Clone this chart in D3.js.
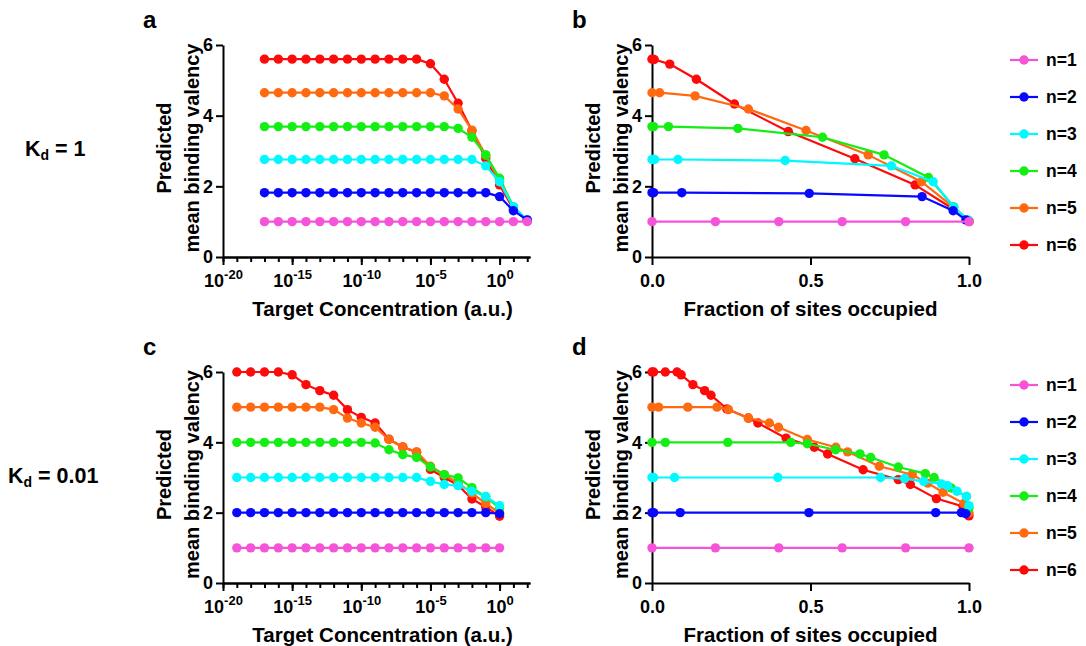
<!DOCTYPE html>
<html>
<head>
<meta charset="utf-8">
<script src="https://cdn.jsdelivr.net/npm/d3@7"></script>
<style>
body { margin: 0; background: #fff; }
svg text { font-family: "Liberation Sans", Arial, sans-serif; font-weight: bold; fill: #000; }
</style>
</head>
<body>
<svg id="canvas"></svg>
<script>
// series
const seriesNames = ['n=1', 'n=2', 'n=3', 'n=4', 'n=5', 'n=6']
const seriesColors = ['#f553d8', '#0808ff', '#00f8ff', '#14ee14', '#ff6a10', '#ff0a0a']

// panel a : Kd = 1, x = target concentration exponent (10^x)
const expA = [-17, -16, -15, -14, -13, -12, -11, -10, -9, -8, -7, -6, -5, -4, -3, -2, -1, 0, 1, 2]
const valA1 = [1, 1, 1, 1, 1, 1, 1, 1, 1, 1, 1, 1, 1, 1, 1, 1, 1, 1, 1, 1]
const valA2 = [1.82, 1.82, 1.82, 1.82, 1.82, 1.82, 1.82, 1.82, 1.82, 1.82, 1.82, 1.82, 1.82, 1.82, 1.82, 1.82, 1.82, 1.71, 1.31, 1.05]
const valA3 = [2.76, 2.76, 2.76, 2.76, 2.76, 2.76, 2.76, 2.76, 2.76, 2.76, 2.76, 2.76, 2.76, 2.76, 2.76, 2.76, 2.58, 2.13, 1.42, 1.05]
const valA4 = [3.69, 3.69, 3.69, 3.69, 3.69, 3.69, 3.69, 3.69, 3.69, 3.69, 3.69, 3.69, 3.69, 3.69, 3.64, 3.39, 2.89, 2.23, 1.42, 1.03]
const valA5 = [4.65, 4.65, 4.65, 4.65, 4.65, 4.65, 4.65, 4.65, 4.65, 4.65, 4.65, 4.65, 4.65, 4.56, 4.19, 3.59, 2.88, 2.13, 1.40, 1.02]
const valA6 = [5.6, 5.6, 5.6, 5.6, 5.6, 5.6, 5.6, 5.6, 5.6, 5.6, 5.6, 5.6, 5.47, 5.03, 4.35, 3.57, 2.79, 2.04, 1.36, 1.02]

// panel b : Kd = 1, x = fraction of sites occupied
const fracB1 = [0, 0.2, 0.4, 0.6, 0.8, 1.0]
const valB1 = [1, 1, 1, 1, 1, 1]
const fracB2 = [0, 0.005, 0.094, 0.496, 0.852, 0.95, 0.99]
const valB2 = [1.82, 1.82, 1.82, 1.80, 1.71, 1.31, 1.05]
const fracB3 = [0, 0.008, 0.082, 0.42, 0.755, 0.887, 0.952, 0.997]
const valB3 = [2.76, 2.76, 2.76, 2.73, 2.58, 2.13, 1.41, 1.05]
const fracB4 = [0, 0.005, 0.052, 0.271, 0.538, 0.732, 0.872, 0.952, 1.0]
const valB4 = [3.69, 3.69, 3.69, 3.64, 3.39, 2.89, 2.25, 1.42, 1.02]
const fracB5 = [0, 0.024, 0.136, 0.304, 0.486, 0.682, 0.85, 0.95, 1.0]
const valB5 = [4.65, 4.65, 4.56, 4.19, 3.58, 2.89, 2.13, 1.42, 1.02]
const fracB6 = [0, 0.007, 0.056, 0.14, 0.26, 0.43, 0.64, 0.83, 0.95, 1.0]
const valB6 = [5.6, 5.59, 5.46, 5.03, 4.33, 3.55, 2.78, 2.04, 1.36, 1.0]

// panel c : Kd = 0.01
const expC = [-19, -18, -17, -16, -15, -14, -13, -12, -11, -10, -9, -8, -7, -6, -5, -4, -3, -2, -1, 0]
const valC1 = [1, 1, 1, 1, 1, 1, 1, 1, 1, 1, 1, 1, 1, 1, 1, 1, 1, 1, 1, 1]
const valC2 = [2, 2, 2, 2, 2, 2, 2, 2, 2, 2, 2, 2, 2, 2, 2, 2, 2, 2, 2, 1.97]
const valC3 = [3, 3, 3, 3, 3, 3, 3, 3, 3, 3, 3, 3, 3, 3, 2.89, 2.80, 2.77, 2.61, 2.46, 2.20]
const valC4 = [4, 4, 4, 4, 4, 4, 4, 4, 4, 4, 3.98, 3.79, 3.65, 3.57, 3.30, 3.08, 2.99, 2.71, 2.45, 2.13]
const valC5 = [5, 5, 5, 5, 5, 5, 5, 4.93, 4.69, 4.55, 4.43, 4.08, 3.86, 3.73, 3.32, 3.08, 2.84, 2.56, 2.26, 1.99]
const valC6 = [6, 6, 6, 6, 5.92, 5.64, 5.47, 5.34, 4.93, 4.71, 4.55, 4.09, 3.87, 3.72, 3.23, 3.0, 2.78, 2.39, 2.16, 1.90]

// panel d : Kd = 0.01
const fracD1 = [0, 0.2, 0.4, 0.6, 0.8, 1.0]
const valD1 = [1, 1, 1, 1, 1, 1]
const fracD2 = [0, 0.005, 0.089, 0.495, 0.895, 0.976, 0.99]
const valD2 = [2, 2, 2, 2, 2, 2, 1.97]
const fracD3 = [0, 0.005, 0.071, 0.397, 0.721, 0.797, 0.857, 0.913, 0.932, 0.962, 0.992, 1.0]
const valD3 = [3, 3, 3, 3, 3, 2.97, 2.89, 2.82, 2.77, 2.61, 2.46, 2.2]
const fracD4 = [0, 0.042, 0.239, 0.438, 0.49, 0.579, 0.656, 0.69, 0.777, 0.862, 0.89, 0.944, 0.992, 1.0]
const valD4 = [4, 4, 4, 4, 3.96, 3.79, 3.67, 3.57, 3.30, 3.11, 3.0, 2.70, 2.46, 2.13]
const fracD5 = [0, 0.021, 0.113, 0.205, 0.241, 0.304, 0.37, 0.399, 0.49, 0.58, 0.617, 0.717, 0.821, 0.87, 0.918, 0.984, 1.0]
const valD5 = [5, 5, 5, 5, 4.93, 4.69, 4.55, 4.43, 4.08, 3.86, 3.73, 3.32, 3.08, 2.84, 2.58, 2.26, 1.99]
const fracD6 = [0, 0.005, 0.042, 0.079, 0.092, 0.129, 0.166, 0.186, 0.236, 0.304, 0.334, 0.423, 0.512, 0.554, 0.666, 0.777, 0.815, 0.897, 0.981, 1.0]
const valD6 = [6, 6, 6, 6, 5.92, 5.64, 5.47, 5.34, 4.95, 4.69, 4.55, 4.12, 3.86, 3.67, 3.22, 2.94, 2.80, 2.40, 2.18, 1.91]

const yTicks = [0, 2, 4, 6]
const logMajorExp = [-20, -15, -10, -5, 0]
const logMinorExp = [-20, -19, -18, -17, -16, -15, -14, -13, -12, -11, -10, -9, -8, -7, -6, -5, -4, -3, -2, -1, 0, 1, 2]
const fracTicks = [0, 0.5, 1]

const width = 1086
const height = 646

let svg = d3.select('#canvas').attr('width', width).attr('height', height)

let zip = (xs, ys) => xs.map((x, i) => [x, ys[i]])

let panels = [
    {letter: 'a', kind: 'log', left: 223, right: 530, top: 45, bottom: 257,
     series: [zip(expA, valA1), zip(expA, valA2), zip(expA, valA3), zip(expA, valA4), zip(expA, valA5), zip(expA, valA6)],
     xTitle: 'Target Concentration (a.u.)'},
    {letter: 'b', kind: 'frac', left: 652, right: 969, top: 45, bottom: 257,
     series: [zip(fracB1, valB1), zip(fracB2, valB2), zip(fracB3, valB3), zip(fracB4, valB4), zip(fracB5, valB5), zip(fracB6, valB6)],
     xTitle: 'Fraction of sites occupied'},
    {letter: 'c', kind: 'log', left: 223, right: 530, top: 372, bottom: 583,
     series: [zip(expC, valC1), zip(expC, valC2), zip(expC, valC3), zip(expC, valC4), zip(expC, valC5), zip(expC, valC6)],
     xTitle: 'Target Concentration (a.u.)'},
    {letter: 'd', kind: 'frac', left: 652, right: 969, top: 372, bottom: 583,
     series: [zip(fracD1, valD1), zip(fracD2, valD2), zip(fracD3, valD3), zip(fracD4, valD4), zip(fracD5, valD5), zip(fracD6, valD6)],
     xTitle: 'Fraction of sites occupied'}
]

let styleAxis = (g) => {
    g.select('.domain').attr('stroke', '#000').attr('stroke-width', 2)
    g.selectAll('.tick line').attr('stroke', '#000').attr('stroke-width', 2)
    g.selectAll('.tick text').attr('font-size', 18).attr('font-family', null)
}

let drawPanel = (p) => {
    let yScale = d3.scaleLinear().domain([0, 6]).range([p.bottom, p.top])
    let xScale
    let xOf
    if (p.kind === 'log') {
        xScale = d3.scaleLog().domain([1e-20, Math.pow(10, 2.2)]).range([p.left, p.right])
        xOf = (d) => xScale(Math.pow(10, d[0]))
    } else {
        xScale = d3.scaleLinear().domain([0, 1]).range([p.left, p.right])
        xOf = (d) => xScale(d[0])
    }

    // axes
    if (p.kind === 'log') {
        let minor = svg.append('g')
            .attr('transform', 'translate(0,' + p.bottom + ')')
            .call(d3.axisBottom(xScale).tickValues(logMinorExp.map(e => Math.pow(10, e)))
                .tickSize(5).tickSizeOuter(0).tickFormat(''))
        styleAxis(minor)
        let major = svg.append('g')
            .attr('transform', 'translate(0,' + p.bottom + ')')
            .call(d3.axisBottom(xScale).tickValues(logMajorExp.map(e => Math.pow(10, e)))
                .tickSize(8).tickSizeOuter(0).tickPadding(4).tickFormat(''))
        styleAxis(major)
        major.selectAll('.tick text').each(function(d) {
            let t = d3.select(this)
            let e = Math.round(Math.log10(d))
            t.attr('dy', '1.0em')
            t.append('tspan').text('10')
            t.append('tspan').attr('dy', -8).attr('font-size', 13).text(e)
        })
    } else {
        let xAxis = svg.append('g')
            .attr('transform', 'translate(0,' + p.bottom + ')')
            .call(d3.axisBottom(xScale).tickValues(fracTicks).tickSize(8).tickSizeOuter(0)
                .tickPadding(4).tickFormat(d3.format('.1f')))
        styleAxis(xAxis)
        xAxis.selectAll('.tick text').attr('dy', '1.0em')
    }
    let yAxis = svg.append('g')
        .attr('transform', 'translate(' + p.left + ',0)')
        .call(d3.axisLeft(yScale).tickValues(yTicks).tickSize(7).tickSizeOuter(0)
            .tickPadding(3).tickFormat(d3.format('d')))
    styleAxis(yAxis)

    // titles
    svg.append('text')
        .attr('x', (p.left + p.right) / 2 + (p.kind === 'log' ? 6 : 0))
        .attr('y', p.bottom + 59)
        .attr('text-anchor', 'middle')
        .attr('font-size', 20.5)
        .text(p.xTitle)

    let yt = svg.append('text')
        .attr('transform', 'translate(' + (p.left - 52) + ',' + ((p.top + p.bottom) / 2 - 3) + ') rotate(-90)')
        .attr('text-anchor', 'middle')
        .attr('font-size', 20)
    yt.append('tspan').attr('x', 0).attr('dy', 0).text('Predicted')
    yt.append('tspan').attr('x', 0).attr('dy', 28).text('mean binding valency')

    svg.append('text')
        .attr('x', p.left - 80)
        .attr('y', p.top - 17)
        .attr('font-size', 24)
        .text(p.letter)

    // data, n=6 drawn first so n=1 sits on top
    let line = d3.line().x(xOf).y(d => yScale(d[1]))
    for (let i = p.series.length - 1; i >= 0; i--) {
        let g = svg.append('g')
        g.append('path')
            .datum(p.series[i])
            .attr('d', line)
            .attr('fill', 'none')
            .attr('stroke', seriesColors[i])
            .attr('stroke-width', 2.2)
        g.selectAll('circle')
            .data(p.series[i])
            .enter()
            .append('circle')
            .attr('cx', xOf)
            .attr('cy', d => yScale(d[1]))
            .attr('r', 4.7)
            .attr('fill', seriesColors[i])
    }
}

panels.forEach(drawPanel)

// legends
let drawLegend = (top) => {
    seriesNames.forEach((name, i) => {
        let y = top + i * 37
        svg.append('line')
            .attr('x1', 1010).attr('x2', 1038)
            .attr('y1', y).attr('y2', y)
            .attr('stroke', seriesColors[i]).attr('stroke-width', 2.2)
        svg.append('circle')
            .attr('cx', 1024).attr('cy', y).attr('r', 4.7)
            .attr('fill', seriesColors[i])
        svg.append('text')
            .attr('x', 1046).attr('y', y + 6)
            .attr('font-size', 17.5)
            .text(name)
    })
}
drawLegend(60)
drawLegend(385)

// Kd labels
let kd = (x, y, rest) => {
    let t = svg.append('text').attr('x', x).attr('y', y).attr('font-size', 21.5)
    t.append('tspan').text('K')
    t.append('tspan').attr('dy', 4).attr('font-size', 14).text('d')
    t.append('tspan').attr('dy', -4).text(' = ' + rest)
}
kd(25, 156, '1')
kd(8, 483, '0.01')
</script>
</body>
</html>
